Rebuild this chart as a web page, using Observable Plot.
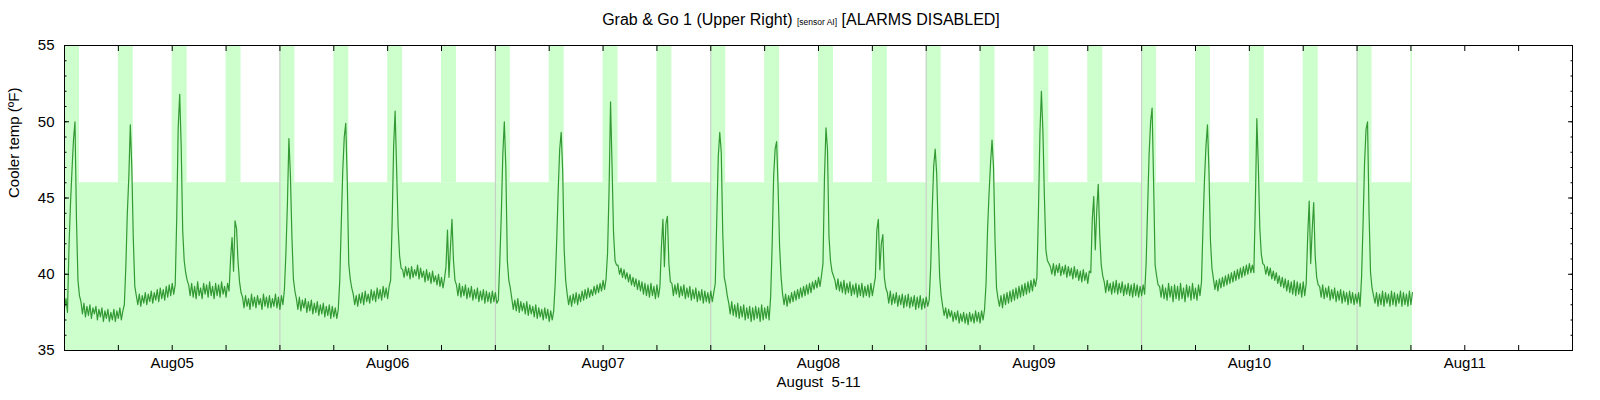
<!DOCTYPE html>
<html><head><meta charset="utf-8">
<script src="https://cdn.jsdelivr.net/npm/d3@7"></script>
<script src="https://cdn.jsdelivr.net/npm/@observablehq/plot@0.6"></script>
<style>
body{margin:0;background:#fff;}
#wrap{position:relative;width:1600px;height:400px;font-family:"Liberation Sans",Arial,sans-serif;}
#wrap svg{position:absolute;left:0;top:0;}
#title{position:absolute;left:0;top:10px;width:1602px;text-align:center;font-size:16px;line-height:19px;color:#000;white-space:pre;}
#title .small{font-size:8.5px;}
</style></head><body>
<div id="wrap"></div>
<script>
// ---- data ----
const seriesStart = "2024-08-05T00:00:00Z";
const sampleMinutes = 10;
const temps = [
// Aug05 00:00
37.8,38.4,37.5,41.8,44.6,46.8,48.8,50.0,43.6,39.6,38.6,38.2,
37.4,38.1,37.2,37.9,37.3,38.0,37.1,37.8,37.4,37.9,37.0,37.7,37.2,37.8,36.9,37.6,37.1,37.7,36.9,37.5,37.0,37.7,36.9,37.6,37.1,37.8,37.0,37.6,
38.0,40.5,44.0,46.4,49.8,47.0,42.3,39.2,38.6,
38.0,38.7,37.9,38.6,38.1,38.8,38.0,38.7,38.2,38.9,38.1,38.8,38.3,39.0,38.2,39.1,38.4,39.0,38.3,39.2,38.5,39.3,38.6,39.4,38.7,39.3,
43.6,49.6,51.8,48.4,42.9,40.9,40.1,39.6,
39.3,38.6,39.4,38.5,39.2,38.4,39.5,38.6,39.1,38.4,39.4,38.7,39.3,38.5,39.5,38.6,39.2,38.4,39.4,38.6,39.3,38.5,39.5,38.7,39.2,38.5,39.4,38.9,
41.0,42.4,40.2,43.5,43.0,40.8,39.5,38.8,
38.5,37.8,38.6,37.9,38.4,37.7,38.7,37.9,38.5,37.8,38.6,38.0,38.4,37.7,38.7,37.9,38.5,37.8,38.6,37.8,38.4,37.9,38.7,37.8,38.5,37.7,38.6,38.0,
// Aug06
39.0,41.4,44.6,48.9,46.5,42.5,39.7,38.9,
38.4,37.7,38.5,37.6,38.3,37.8,38.4,37.5,38.2,37.6,38.3,37.4,38.1,37.5,38.2,37.3,38.0,37.4,38.1,37.2,37.9,37.3,38.0,37.1,37.9,37.2,37.8,37.1,37.7,
39.6,43.3,46.8,49.0,49.9,46.2,40.7,39.7,39.1,
38.7,38.0,38.6,37.9,38.7,38.1,38.8,38.0,38.9,38.2,38.7,38.1,39.0,38.3,38.9,38.2,39.1,38.4,39.0,38.3,39.2,38.5,39.1,38.4,39.2,
39.6,43.4,48.4,50.7,46.9,43.1,41.2,40.4,
40.3,39.8,40.5,39.9,40.4,39.7,40.5,39.8,40.3,39.9,40.6,39.7,40.4,39.8,40.2,39.5,40.3,39.6,40.1,39.4,40.2,39.5,39.9,39.3,40.0,39.2,39.8,39.1,39.7,
40.5,42.9,39.8,41.8,43.6,40.9,39.6,
39.3,38.6,39.4,38.5,39.2,38.6,39.3,38.4,39.1,38.5,39.2,38.3,39.0,38.4,39.1,38.2,38.9,38.3,39.0,38.1,38.9,38.2,38.8,38.1,38.9,38.2,38.8,38.1,
// Aug07
38.3,40.9,44.0,47.9,50.0,47.0,40.9,39.6,39.1,
38.4,37.7,38.3,37.6,38.4,37.5,38.2,37.6,38.1,37.4,38.2,37.3,38.0,37.4,37.9,37.2,38.0,37.1,37.8,37.2,37.7,37.0,37.8,37.1,37.7,36.9,37.6,37.0,37.6,
39.4,42.2,45.5,48.2,49.3,46.8,41.6,39.6,38.7,
38.0,38.6,37.9,38.7,38.1,38.8,38.0,38.7,38.2,38.9,38.3,39.0,38.4,39.1,38.5,39.0,38.6,39.2,38.7,39.3,38.8,39.4,38.9,39.6,39.0,39.7,
41.4,45.5,51.3,47.1,42.7,40.9,40.6,
40.6,40.0,40.4,39.8,40.3,39.7,40.1,39.5,40.0,39.3,39.8,39.2,39.7,39.0,39.6,38.9,39.5,38.7,39.4,38.6,39.3,38.5,39.4,38.6,39.2,38.4,39.3,38.5,
39.2,41.8,43.6,40.5,43.3,43.8,40.7,39.5,
39.4,38.6,39.3,38.7,39.4,38.5,39.2,38.6,39.3,38.4,39.1,38.5,39.2,38.3,39.0,38.4,39.1,38.2,38.9,38.3,39.0,38.1,38.9,38.2,38.8,38.1,38.9,38.2,38.8,
// Aug08
39.4,43.6,47.7,49.3,48.0,42.7,39.8,39.3,38.6,
38.1,37.4,38.2,37.3,38.0,37.2,38.1,37.1,37.9,37.2,38.0,37.0,37.8,37.1,37.9,36.9,37.8,37.0,37.9,37.1,37.8,36.9,38.0,37.0,37.8,37.1,37.9,37.0,
38.5,41.8,46.4,48.2,48.7,45.7,41.8,39.8,38.7,
38.0,38.7,37.9,38.6,38.1,38.8,38.2,38.9,38.3,39.0,38.4,39.1,38.5,39.2,38.6,39.3,38.7,39.4,38.8,39.5,39.0,39.6,39.1,39.8,39.2,39.9,
40.7,46.4,49.6,48.2,42.5,40.9,40.2,39.9,
39.6,39.0,39.7,38.9,39.5,38.8,39.6,38.7,39.4,38.8,39.5,38.6,39.3,38.7,39.4,38.5,39.3,38.6,39.4,38.5,39.2,38.6,39.3,38.5,39.4,38.6,39.2,
39.8,42.9,43.6,40.3,42.0,42.6,39.8,39.1,
38.8,38.1,38.9,38.0,38.7,38.1,38.8,37.9,38.6,38.0,38.7,37.8,38.6,37.9,38.7,37.8,38.5,37.9,38.6,37.7,38.5,37.8,38.6,37.7,38.4,37.8,38.5,37.9,
// Aug09
38.3,40.5,44.2,47.1,48.2,46.6,42.9,39.8,38.6,
37.9,37.3,37.8,37.1,37.7,37.2,37.6,36.9,37.5,37.0,37.6,36.8,37.4,36.9,37.5,36.8,37.4,36.7,37.5,36.9,37.4,36.8,37.6,36.9,37.5,36.8,37.6,37.0,37.7,
39.4,42.9,45.3,47.3,48.8,47.0,42.2,39.1,38.4,
37.9,38.6,37.8,38.7,38.0,38.8,38.1,38.9,38.2,39.0,38.3,39.1,38.4,39.2,38.5,39.3,38.6,39.4,38.7,39.5,38.8,39.6,38.9,39.7,39.2,
39.8,44.0,49.2,52.0,49.4,45.1,41.6,40.9,40.7,
40.5,40.0,40.7,39.9,40.6,40.1,40.7,39.9,40.5,40.0,40.6,39.8,40.5,39.9,40.4,39.7,40.5,39.8,40.3,39.6,40.2,39.5,40.3,39.6,40.1,39.4,40.2,
40.1,43.6,45.1,41.6,44.2,45.9,42.5,40.6,39.9,
39.5,38.8,39.6,38.9,39.4,38.7,39.5,38.8,39.6,38.7,39.4,38.8,39.5,38.6,39.3,38.7,39.4,38.6,39.3,38.5,39.4,38.6,39.3,38.5,39.2,38.6,39.3,38.7,
// Aug10
40.7,44.4,47.9,50.0,50.9,46.0,40.6,39.9,39.3,
39.2,38.5,39.3,38.4,39.1,38.3,39.4,38.5,39.2,38.2,39.3,38.4,39.2,38.3,39.4,38.4,39.1,38.2,39.3,38.5,39.2,38.3,39.4,38.4,39.1,38.3,39.3,38.6,
39.5,43.1,46.2,48.4,49.8,46.8,42.2,40.4,39.7,
39.0,39.6,38.9,39.7,39.1,39.8,39.2,39.9,39.3,40.0,39.4,40.1,39.5,40.2,39.6,40.3,39.7,40.4,39.8,40.5,39.9,40.6,40.0,40.7,40.1,40.6,
40.1,44.6,50.2,47.1,43.0,41.3,40.7,
40.6,40.0,40.5,39.9,40.4,39.7,40.2,39.6,40.1,39.4,39.9,39.2,39.8,39.1,39.7,38.9,39.6,38.8,39.5,38.7,39.6,38.6,39.5,38.7,39.4,38.5,39.5,38.6,
39.4,42.5,44.8,40.7,42.9,44.7,41.2,39.8,39.3,
39.2,38.5,39.3,38.4,39.1,38.5,39.2,38.3,39.0,38.4,39.1,38.2,38.9,38.3,39.0,38.1,38.9,38.2,38.8,38.0,38.9,38.1,38.8,38.0,38.7,38.1,38.8,37.9,
// Aug11
39.8,43.3,47.3,49.5,50.0,44.0,40.1,39.1,38.6,
38.1,38.8,37.9,38.7,38.0,38.9,37.9,38.8,38.1,38.7,37.9,38.9,38.0,38.8,37.9,38.7,38.1,38.9,37.9,38.8,38.0,38.7,37.9,38.9,38.0,38.8
];
// alarms disabled windows (hours after series start) and their length
const alarmOffStartHours = [0,6,12,18,24,30,36,42,48,54,60,66,72,78,84,90,96,102,108,114,120,126,132,138,144,150];
const alarmOffMinutes = 100;
const alarmThreshold = 46;
const xDomain = ["2024-08-05T00:00:00Z", "2024-08-12T00:00:00Z"];
const yDomain = [35, 55];
const dayLines = ["2024-08-06","2024-08-07","2024-08-08","2024-08-09","2024-08-10","2024-08-11"];
const xTickLabels = ["Aug05","Aug06","Aug07","Aug08","Aug09","Aug10","Aug11"];
const xLabelTimes = ["2024-08-05T12:00Z","2024-08-06T12:00Z","2024-08-07T12:00Z","2024-08-08T12:00Z","2024-08-09T12:00Z","2024-08-10T12:00Z","2024-08-11T12:00Z"];
const yMajorTicks = [35, 40, 45, 50, 55];
const yMinorTicks = d3.range(yDomain[0], yDomain[1] + 1);
const titleMain = "Grab & Go 1 (Upper Right)";
const titleSensor = "[sensor AI]";
const titleTail = "[ALARMS DISABLED]";
const yLabel = "Cooler temp (ºF)";
const xLabel = "August\u00a0 5-11";

// ---- build ----
const t0 = new Date(seriesStart);
const data = temps.map((v, i) => ({time: new Date(+t0 + i * sampleMinutes * 60000), temp: v}));
const dataEnd = data[data.length - 1].time;
const windows = alarmOffStartHours.map(h => ({
  x1: new Date(+t0 + h * 3600000),
  x2: new Date(Math.min(+t0 + h * 3600000 + alarmOffMinutes * 60000, +dataEnd))
}));
const lowerBand = [{x1: t0, x2: dataEnd}];
const xd = xDomain.map(d => new Date(d));
const sixHourTicks = d3.utcHours(xd[0], xd[1], 6).filter(d => +d > +xd[0]);
const labelTimes = xLabelTimes.map(d => new Date(d));
const labelMap = new Map(labelTimes.map((d, i) => [+d, xTickLabels[i]]));
const blank = () => "";

const chart = Plot.plot({
  width: 1600, height: 400,
  marginLeft: 64, marginRight: 28, marginTop: 45, marginBottom: 50,
  style: {fontFamily: '"Liberation Sans", Arial, sans-serif', fontSize: "15px", color: "black", background: "white"},
  x: {type: "utc", domain: xd},
  y: {domain: yDomain},
  marks: [
    Plot.rect(lowerBand, {x1: "x1", x2: "x2", y1: yDomain[0], y2: alarmThreshold, fill: "#ccffcc"}),
    Plot.rect(windows, {x1: "x1", x2: "x2", y1: alarmThreshold, y2: yDomain[1], fill: "#ccffcc"}),
    Plot.ruleX(dayLines.map(d => new Date(d)), {stroke: "#c8c8c8", strokeWidth: 1}),
    Plot.line(data, {x: "time", y: "temp", stroke: "#339933", strokeWidth: 1.2}),
    Plot.frame({stroke: "black", strokeWidth: 1}),
    Plot.axisX(sixHourTicks, {anchor: "bottom", tickSize: -5, tickFormat: blank, label: null}),
    Plot.axisX(sixHourTicks, {anchor: "top", tickSize: -5, tickFormat: blank, label: null}),
    Plot.axisX(labelTimes, {anchor: "bottom", tickSize: 0, tickPadding: 7, tickFormat: d => labelMap.get(+d), label: null}),
    Plot.axisY(yMajorTicks, {anchor: "left", tickSize: 0, tickPadding: 10, label: null}),
    Plot.axisY(yMajorTicks, {anchor: "left", tickSize: -5, tickFormat: blank, label: null}),
    Plot.axisY(yMinorTicks, {anchor: "left", tickSize: -2.5, tickFormat: blank, label: null}),
    Plot.axisY(yMajorTicks, {anchor: "right", tickSize: -5, tickFormat: blank, label: null}),
    Plot.axisY(yMinorTicks, {anchor: "right", tickSize: -2.5, tickFormat: blank, label: null}),
    Plot.text([yLabel], {text: d => d, frameAnchor: "left", dx: -50, rotate: -90, fontSize: 15}),
    Plot.text([xLabel], {text: d => d, frameAnchor: "bottom", dy: 36, fontSize: 15})
  ]
});
const wrap = document.getElementById("wrap");
wrap.appendChild(chart);
const title = document.createElement("div");
title.id = "title";
const s1 = document.createElement("span"); s1.textContent = titleMain + " ";
const s2 = document.createElement("span"); s2.className = "small"; s2.textContent = titleSensor;
const s3 = document.createElement("span"); s3.textContent = " " + titleTail;
title.append(s1, s2, s3);
wrap.appendChild(title);
</script>
</body></html>
